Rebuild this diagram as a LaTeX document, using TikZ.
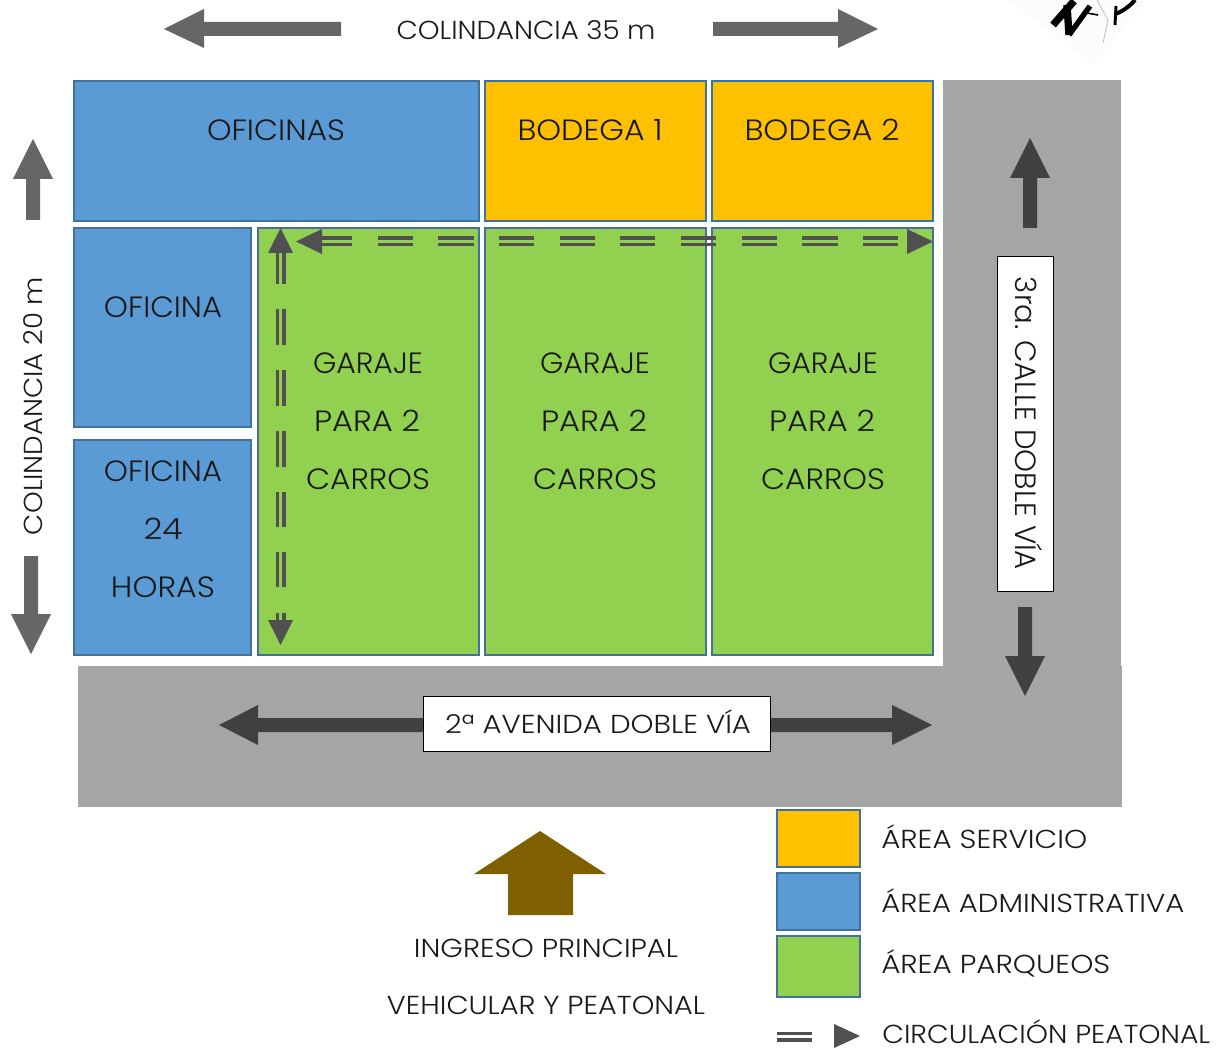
\documentclass[tikz,border=0pt]{standalone}
\usepackage{fontspec}
\setmainfont{Poppins}[UprightFont=* Light]
\newlength{\pxu}\setlength{\pxu}{0.75pt}
\newcommand{\lbl}[2]{\resizebox{#1\pxu}{\height}{\fontsize{22}{26}\selectfont #2}}
\newcommand{\lbs}[2]{\resizebox{#1\pxu}{\height}{\fontsize{19.5}{24}\selectfont #2}}
\tikzset{
 room/.style={draw=#1,line width=2.1pt,inner sep=0pt},
 txt/.style={anchor=base,inner sep=0pt,text=black!90},
 cw/.style={draw=black,fill=white,line width=0.75pt},
 ped/.style={draw=pedgray,line width=2.3pt}
}
\definecolor{bluef}{HTML}{5B9BD5}
\definecolor{blued}{HTML}{41719C}
\definecolor{orangef}{HTML}{FFC000}
\definecolor{greenf}{HTML}{92D050}
\definecolor{roadg}{HTML}{A5A5A5}
\definecolor{arrowlight}{HTML}{666666}
\definecolor{arrowdark}{HTML}{404040}
\definecolor{pedgray}{HTML}{505050}
\definecolor{brownf}{HTML}{7F6000}
\definecolor{bodegab}{HTML}{2E75B6}
\begin{document}
\begin{tikzpicture}[x=0.75pt,y=-0.75pt]
\useasboundingbox (0,0) rectangle (1219,1048);
\clip (0,0) rectangle (1219,1048);
% logo fragment
\fill[black!1] (1008,0) -- (1094,65) -- (1145,0) -- cycle;
\draw[black!25,line width=0.6pt] (1097,0) -- (1108,20) -- (1103,43);
\draw[black,line width=5.5pt] (1053,25) -- (1074,1);
\draw[black,line width=5.5pt] (1069,35) -- (1067,5);
\draw[black,line width=4pt] (1069,35) -- (1090,6);
\draw[black,line width=1.2pt] (1087,13) -- (1098,15);
\draw[black,line width=2.2pt] (1115,25) -- (1116,6);
\draw[black,line width=3pt] (1115,14) .. controls (1122,12) and (1130,6) .. (1135,0);
% roads
\fill[roadg] (943,80) rectangle (1121,667);
\fill[roadg] (78,666) rectangle (1122,807);
% rooms
\path[room=blued,fill=bluef] (74,81) rectangle (479,221);
\path[room=blued,fill=orangef] (485,81) rectangle (706,221);
\path[room=bodegab,fill=orangef] (712,81) rectangle (933,221);
\path[room=blued,fill=bluef] (74,228) rectangle (251,427);
\path[room=blued,fill=bluef] (74,440) rectangle (251,655);
\path[room=blued,fill=greenf] (258,228) rectangle (479,655);
\path[room=blued,fill=greenf] (485,228) rectangle (706,655);
\path[room=blued,fill=greenf] (712,228) rectangle (933,655);
% room labels
\node[txt] (t1) at (276,141) {\lbl{138}{OFICINAS}};
\node[txt] (t2) at (590,141) {\lbl{145}{BODEGA 1}};
\node[txt] (t3) at (822,141) {\lbl{155}{BODEGA 2}};
\node[txt] (t4) at (163,318) {\lbl{118}{OFICINA}};
\node[txt] (t5) at (163,481) {\lbl{118}{OFICINA}};
\node[txt] (t6) at (163,539) {\lbl{39}{24}};
\node[txt] (t7) at (163,597) {\lbl{104}{HORAS}};
\foreach \cx/\nm in {368/a,595/b,823/c}{
 \node[txt] (g1\nm) at (\cx,373) {\lbl{110}{GARAJE}};
 \node[txt] (g2\nm) at (\cx-1,431) {\lbl{106}{PARA 2}};
 \node[txt] (g3\nm) at (\cx,489.5) {\lbl{124}{CARROS}};
}
% top and side block arrows
\fill[arrowlight] (164,29) -- (204,9) -- (204,22) -- (341,22) -- (341,36) -- (204,36) -- (204,48) -- cycle;
\fill[arrowlight] (878,29) -- (838,9) -- (838,22) -- (713,22) -- (713,36) -- (838,36) -- (838,48) -- cycle;
\fill[arrowlight] (33,139) -- (53,179) -- (40,179) -- (40,220) -- (26,220) -- (26,179) -- (13,179) -- cycle;
\fill[arrowlight] (31,654) -- (51,614) -- (38,614) -- (38,556) -- (24,556) -- (24,614) -- (11,614) -- cycle;
\fill[arrowdark] (1030,138) -- (1050,178) -- (1037,178) -- (1037,228) -- (1023,228) -- (1023,178) -- (1010,178) -- cycle;
\fill[arrowdark] (1025,696) -- (1045,656) -- (1032,656) -- (1032,607) -- (1018,607) -- (1018,656) -- (1005,656) -- cycle;
\fill[arrowdark] (219,725) -- (258,705) -- (258,718) -- (430,718) -- (430,732) -- (258,732) -- (258,745) -- cycle;
\fill[arrowdark] (932,725) -- (892,705) -- (892,718) -- (765,718) -- (765,732) -- (892,732) -- (892,745) -- cycle;
\fill[brownf] (540,831) -- (606,874) -- (573,874) -- (573,915) -- (508,915) -- (508,874) -- (474,874) -- cycle;
% road signs
\draw[cw] (997.5,256.5) rectangle (1053.5,591.5);
\draw[cw] (423,696) rectangle (770.5,751.5);
\node[txt] (s1) at (598,733.5) {\lbs{306}{2ª AVENIDA DOBLE VÍA}};
\node[txt,rotate=-90] (s2) at (1015,423.5) {\lbl{293}{3ra. CALLE DOBLE VÍA}};
\node[txt] (s3) at (526,40) {\lbs{259}{COLINDANCIA 35 m}};
\node[txt,rotate=90] (s4) at (42,406) {\lbs{258}{COLINDANCIA 20 m}};
% pedestrian circulation
\foreach \a/\b in {322/352,378/413,438/474,499/534,560/595,620/655,681/716,742/777,802/838,863/898}{
 \draw[ped] (\a,238) -- (\b,238);
 \draw[ped] (\a,244.5) -- (\b,244.5);
}
\foreach \a/\b in {253/284,309/345,370/406,431/467,492/527,552/587,613/621}{
 \draw[ped] (277.5,\a) -- (277.5,\b);
 \draw[ped] (284,\a) -- (284,\b);
}
\fill[pedgray] (296,241.5) -- (322,229) -- (322,254) -- cycle;
\fill[pedgray] (933,241.5) -- (907,229) -- (907,254) -- cycle;
\fill[pedgray] (280.5,228) -- (293,253) -- (268,253) -- cycle;
\fill[pedgray] (280.5,645) -- (293,620) -- (268,620) -- cycle;
% entrance labels
\node[txt] (e1) at (546,957) {\lbs{264}{INGRESO PRINCIPAL}};
\node[txt] (e2) at (546,1014) {\lbs{318}{VEHICULAR Y PEATONAL}};
% legend
\path[room=blued,fill=orangef] (777,810) rectangle (860,867);
\path[room=blued,fill=bluef] (777,873) rectangle (860,930);
\path[room=blued,fill=greenf] (777,936) rectangle (860,997);
\node[txt,anchor=base west] (l1) at (881,848) {\lbs{206}{ÁREA SERVICIO}};
\node[txt,anchor=base west] (l2) at (881,912) {\lbs{303}{ÁREA ADMINISTRATIVA}};
\node[txt,anchor=base west] (l3) at (881,973) {\lbs{229}{ÁREA PARQUEOS}};
\node[txt,anchor=base west] (l4) at (882,1043) {\lbs{328}{CIRCULACIÓN PEATONAL}};
\draw[ped] (777,1033.5) -- (812,1033.5);
\draw[ped] (777,1040) -- (812,1040);
\fill[pedgray] (860,1036) -- (834,1024) -- (834,1048) -- cycle;
\end{tikzpicture}
\end{document}
